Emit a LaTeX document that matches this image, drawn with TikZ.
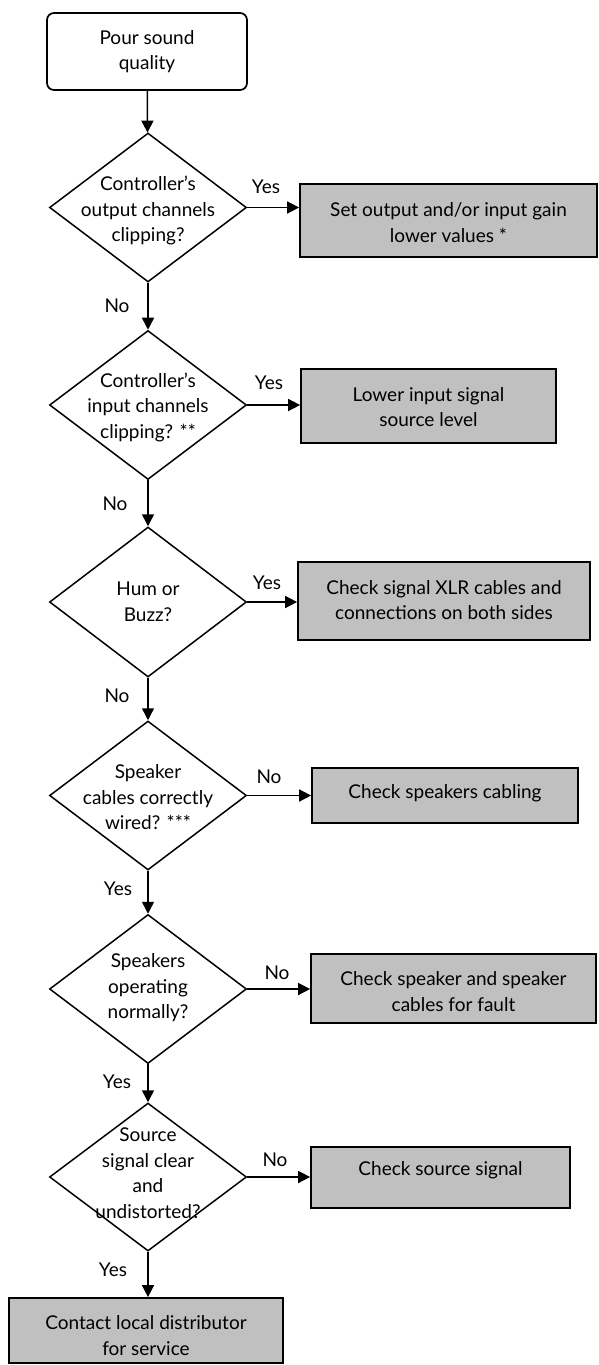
\documentclass[tikz,border=0pt]{standalone}
\usepackage{fontspec}
\setmainfont{Lato}
\usetikzlibrary{shapes.geometric,arrows.meta}
\definecolor{boxgray}{RGB}{192,192,192}
\begin{document}
\begin{tikzpicture}[x=1pt,y=-1pt,
  txt/.style={align=center, inner sep=0pt, font=\fontsize{19}{25.5}\selectfont},
  dia/.style={diamond, draw, line width=1.5pt, minimum width=197pt, minimum height=149pt, inner sep=0pt},
  proc/.style={rectangle, draw, fill=boxgray, line width=1.7pt, inner sep=0pt},
  startbox/.style={rectangle, rounded corners=7pt, draw, line width=1.7pt, inner sep=0pt},
  arr/.style={line width=1.5pt, -{Triangle[length=12pt,width=12pt]}},
  lab/.style={inner sep=0pt, font=\fontsize{19}{22}\selectfont}]
\useasboundingbox (0,0) rectangle (598,1365);

% start
\node[startbox, minimum width=200pt, minimum height=77pt,
  label={[txt]center:{Pour sound\\quality}}] (start) at (147,51.5) {};

% decisions
\node[dia, label={[txt,yshift=-3pt]center:{Controller’s\\output channels\\clipping?}}] (d1) at (148,207.5) {};
\node[dia, label={[txt,yshift=-2pt]center:{Controller’s\\input channels\\clipping? **}}] (d2) at (148,405) {};
\node[dia, minimum height=150pt, label={[txt]center:{Hum or\\Buzz?}}] (d3) at (148,602) {};
\node[dia, label={[txt,yshift=-2pt]center:{Speaker\\cables correctly\\wired? ***}}] (d4) at (148,795.5) {};
\node[dia, label={[txt,yshift=1pt]center:{Speakers\\operating\\normally?}}] (d5) at (148,989) {};
\node[dia, minimum height=148pt, label={[txt,yshift=4pt]center:{Source\\signal clear\\and\\undistorted?}}] (d6) at (148,1177) {};

% actions
\node[proc, minimum width=297pt, minimum height=73pt,
  label={[txt,yshift=-2pt]center:{Set output and/or input gain\\lower values *}}] (b1) at (448.5,220.5) {};
\node[proc, minimum width=255pt, minimum height=74pt,
  label={[txt,yshift=-1pt]center:{Lower input signal\\source level}}] (b2) at (428.5,406) {};
\node[proc, minimum width=292pt, minimum height=78pt,
  label={[txt,yshift=1pt]center:{Check signal XLR cables and\\connections on both sides}}] (b3) at (444,601) {};
\node[proc, minimum width=266pt, minimum height=55pt,
  label={[txt,yshift=2.5pt]center:{Check speakers cabling}}] (b4) at (445,795.5) {};
\node[proc, minimum width=285pt, minimum height=69pt,
  label={[txt,yshift=-3pt]center:{Check speaker and speaker\\cables for fault}}] (b5) at (453.5,988.5) {};
\node[proc, minimum width=259pt, minimum height=61pt,
  label={[txt,yshift=7pt]center:{Check source signal}}] (b6) at (440.5,1177.5) {};
\node[proc, minimum width=274pt, minimum height=65pt,
  label={[txt,yshift=-5pt]center:{Contact local distributor\\for service}}] (fin) at (146,1330.5) {};

% vertical flow
\draw[arr] (start) -- (d1);
\draw[arr] (d1) -- (d2);
\draw[arr] (d2) -- (d3);
\draw[arr] (d3) -- (d4);
\draw[arr] (d4) -- (d5);
\draw[arr] (d5) -- (d6);
\draw[arr] (d6.south) -- (d6.south |- fin.north);

% side branches
\draw[arr] (d1.east) -- (d1.east -| b1.west);
\draw[arr] (d2.east) -- (d2.east -| b2.west);
\draw[arr] (d3.east) -- (d3.east -| b3.west);
\draw[arr] (d4.east) -- (d4.east -| b4.west);
\draw[arr] (d5.east) -- (d5.east -| b5.west);
\draw[arr] (d6.east) -- (d6.east -| b6.west);

% branch labels
\node[lab] (y1) at (266,187) {Yes};
\node[lab] (y2) at (269,383) {Yes};
\node[lab] (y3) at (267,583) {Yes};
\node[lab] (n4) at (269,777) {No};
\node[lab] (n5) at (277,973) {No};
\node[lab] (n6) at (275,1160) {No};

\node[lab] (n1) at (117,306) {No};
\node[lab] (n2) at (115,504) {No};
\node[lab] (n3) at (117,696) {No};
\node[lab] (y4) at (118,889) {Yes};
\node[lab] (y5) at (117,1082) {Yes};
\node[lab] (y6) at (113,1270) {Yes};
\end{tikzpicture}
\end{document}
